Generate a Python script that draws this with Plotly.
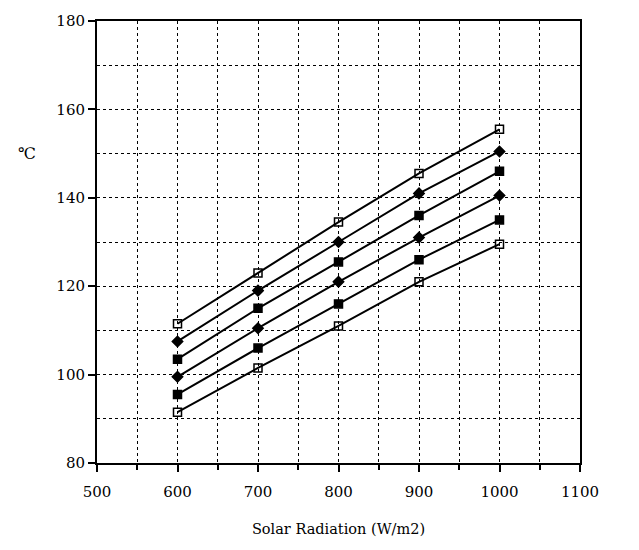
import plotly.graph_objects as go

radiation = [600, 700, 800, 900, 1000]
s1 = [111.5, 123.0, 134.5, 145.5, 155.5]
s2 = [107.5, 119.0, 130.0, 141.0, 150.5]
s3 = [103.5, 115.0, 125.5, 136.0, 146.0]
s4 = [99.5, 110.5, 121.0, 131.0, 140.5]
s5 = [95.5, 106.0, 116.0, 126.0, 135.0]
s6 = [91.5, 101.5, 111.0, 121.0, 129.5]

series = [
    (s1, "square-open"),
    (s2, "diamond"),
    (s3, "square"),
    (s4, "diamond"),
    (s5, "square"),
    (s6, "square-open"),
]

fig = go.Figure()
for ys, sym in series:
    fig.add_trace(go.Scatter(
        x=radiation, y=ys, mode="lines+markers",
        line=dict(color="black", width=2),
        marker=dict(symbol=sym, size=8, color="black",
                    line=dict(color="black", width=1.5)),
        showlegend=False,
    ))

font = "DejaVu Serif"
fig.update_layout(
    width=639, height=550,
    margin=dict(l=97, r=59, t=13, b=87),
    plot_bgcolor="white", paper_bgcolor="white",
    font=dict(family=font, size=15, color="black"),
)
fig.update_xaxes(
    range=[500, 1100], tickmode="linear", tick0=500, dtick=100,
    ticks="outside", ticklen=7, tickwidth=1.5, tickcolor="black",
    ticklabelstandoff=7,
    tickfont=dict(family=font, size=15, color="black"),
    showline=True, linecolor="black", linewidth=2, mirror=True,
    showgrid=True, gridcolor="black", griddash="dot", gridwidth=1.3,
    minor=dict(dtick=50, ticks="outside", ticklen=5, tickcolor="black",
               showgrid=True, gridcolor="black", griddash="dot", gridwidth=1.3),
    zeroline=False,
    title=dict(text="Solar Radiation (W/m2)", font=dict(family=font, size=14.5), standoff=24),
)
fig.update_yaxes(
    range=[80, 180], tickmode="linear", tick0=80, dtick=20,
    ticks="outside", ticklen=7, tickwidth=1.5, tickcolor="black",
    tickfont=dict(family=font, size=15, color="black"),
    showline=True, linecolor="black", linewidth=2, mirror=True,
    showgrid=True, gridcolor="black", griddash="dot", gridwidth=1.3,
    minor=dict(dtick=10, showgrid=True, gridcolor="black", griddash="dot", gridwidth=1.3),
    zeroline=False,
)
fig.add_annotation(
    text="℃", xref="paper", yref="paper", x=-0.145, y=0.7,
    showarrow=False, font=dict(family=font, size=16, color="black"),
    xanchor="center", yanchor="middle",
)
fig.write_html("out.html")
